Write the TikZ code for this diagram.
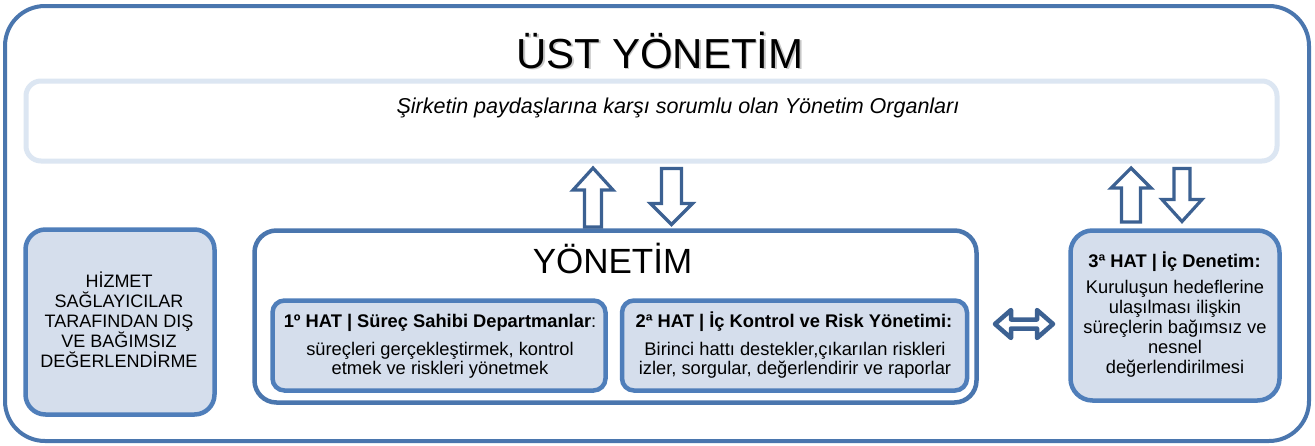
\documentclass[tikz,border=0pt]{standalone}
\usepackage{fontspec}
\setmainfont{Liberation Sans}
\definecolor{frameblue}{HTML}{4A76AE}
\definecolor{boxblue}{HTML}{4F7EBA}
\definecolor{arrowblue}{HTML}{3C6192}
\definecolor{bannerline}{HTML}{DCE6F2}
\definecolor{boxfill}{HTML}{D5DEEC}
\begin{document}
\begin{tikzpicture}[x=1pt,y=-1pt,
  panel/.style={draw=boxblue, line width=4.5pt, fill=boxfill, inner sep=0pt, rounded corners=#1},
  panel/.default=14pt,
  arrowline/.style={draw=arrowblue, line width=3.2pt, fill=white, line join=miter},
  body/.style={font=\fontsize{18.3}{20}\selectfont, align=center, anchor=base, inner sep=0pt},
  bodyb/.style={font=\fontsize{18.3}{20}\selectfont\bfseries, anchor=base, inner sep=0pt},
  pics/uparr/.style n args={4}{code={\draw[arrowline] (-#4,0) -- (-#4,{-(#1-#2)}) -- (-#3,{-(#1-#2)}) -- (0,-#1) -- (#3,{-(#1-#2)}) -- (#4,{-(#1-#2)}) -- (#4,0) -- cycle;}},
  pics/dnarr/.style n args={4}{code={\draw[arrowline] (-#4,0) -- (-#4,{#1-#2}) -- (-#3,{#1-#2}) -- (0,#1) -- (#3,{#1-#2}) -- (#4,{#1-#2}) -- (#4,0) -- cycle;}},
]
\useasboundingbox (0,0) rectangle (1315,445);
\fill[white] (0,0) rectangle (1315,445);

% outer frame
\node[draw=frameblue, line width=4pt, rounded corners=40pt, minimum width=1304pt, minimum height=435pt, inner sep=0pt] (frame) at (657,223.5) {};

% title with soft shadow
\node[font=\fontsize{42}{46}\selectfont, text=black!22, anchor=base, inner sep=0pt] (titleshadow) at (661.5,69.8) {ÜST YÖNETİM};
\node[font=\fontsize{42}{46}\selectfont, anchor=base, inner sep=0pt] (title) at (660,68) {ÜST YÖNETİM};

% banner
\node[draw=bannerline, line width=5pt, fill=white, rounded corners=15pt, minimum width=1251pt, minimum height=80pt, inner sep=0pt] (banner) at (651.5,121) {};
\node[font=\fontsize{21.5}{24}\selectfont\itshape, anchor=base, inner sep=0pt] (bannertext) at (678,113) {Şirketin paydaşlarına karşı sorumlu olan Yönetim Organları};

% left box
\node[panel=20pt, minimum width=189pt, minimum height=185pt] (ext) at (120,322) {};
\node[body, font=\fontsize{18}{20}\selectfont] (exttext) at (119,367) {HİZMET\\SAĞLAYICILAR\\TARAFINDAN DIŞ\\VE BAĞIMSIZ\\DEĞERLENDİRME};

% management box
\node[draw=frameblue, line width=4.5pt, fill=white, rounded corners=22pt, minimum width=722pt, minimum height=172pt, inner sep=0pt] (yon) at (615.5,316.5) {};
\node[font=\fontsize{35}{40}\selectfont, anchor=base, inner sep=0pt] (yontitle) at (612.5,273) {YÖNETİM};

% first line
\node[panel=12pt, minimum width=333pt, minimum height=90pt] (hat1) at (439,345.5) {};
\node[bodyb] (hat1title) at (440,327) {1º HAT | Süreç Sahibi Departmanlar\textmd{:}};
\node[body, font=\fontsize{18.3}{19}\selectfont] (hat1text) at (440,374) {süreçleri gerçekleştirmek, kontrol\\etmek ve riskleri yönetmek};

% second line
\node[panel=12pt, minimum width=345pt, minimum height=90pt] (hat2) at (794.5,345.5) {};
\node[bodyb] (hat2title) at (794,327) {2ª HAT | İç Kontrol ve Risk Yönetimi:};
\node[body, font=\fontsize{18.3}{19}\selectfont] (hat2text) at (795,374) {Birinci hattı destekler,çıkarılan riskleri\\izler, sorgular, değerlendirir ve raporlar};

% third line
\node[panel=22pt, minimum width=209pt, minimum height=170pt] (hat3) at (1175,315.5) {};
\node[bodyb] (hat3title) at (1174.5,267) {3ª HAT | İç Denetim:};
\node[body] (hat3text) at (1175,373) {Kuruluşun hedeflerine\\ulaşılması ilişkin\\süreçlerin bağımsız ve\\nesnel\\değerlendirilmesi};

% block arrows between the top management banner and the lines
\pic at (593,227) {uparr={59}{22}{20}{8.5}};
\pic at (671.5,168.5) {dnarr={56}{21}{21}{10}};
\pic at (1131,222) {uparr={54}{20}{20}{9.5}};
\pic at (1182,168.5) {dnarr={53}{22}{20}{8}};

% double arrow between management and third line
\draw[draw=arrowblue, line width=4.5pt, fill=white, line join=round]
  (1024,324) ++(-29,0) -- ++(16,-14) -- ++(0,9.5) -- ++(26,0) -- ++(0,-9.5) -- ++(16,14)
  -- ++(-16,14) -- ++(0,-9.5) -- ++(-26,0) -- ++(0,9.5) -- cycle;
\end{tikzpicture}
\end{document}
